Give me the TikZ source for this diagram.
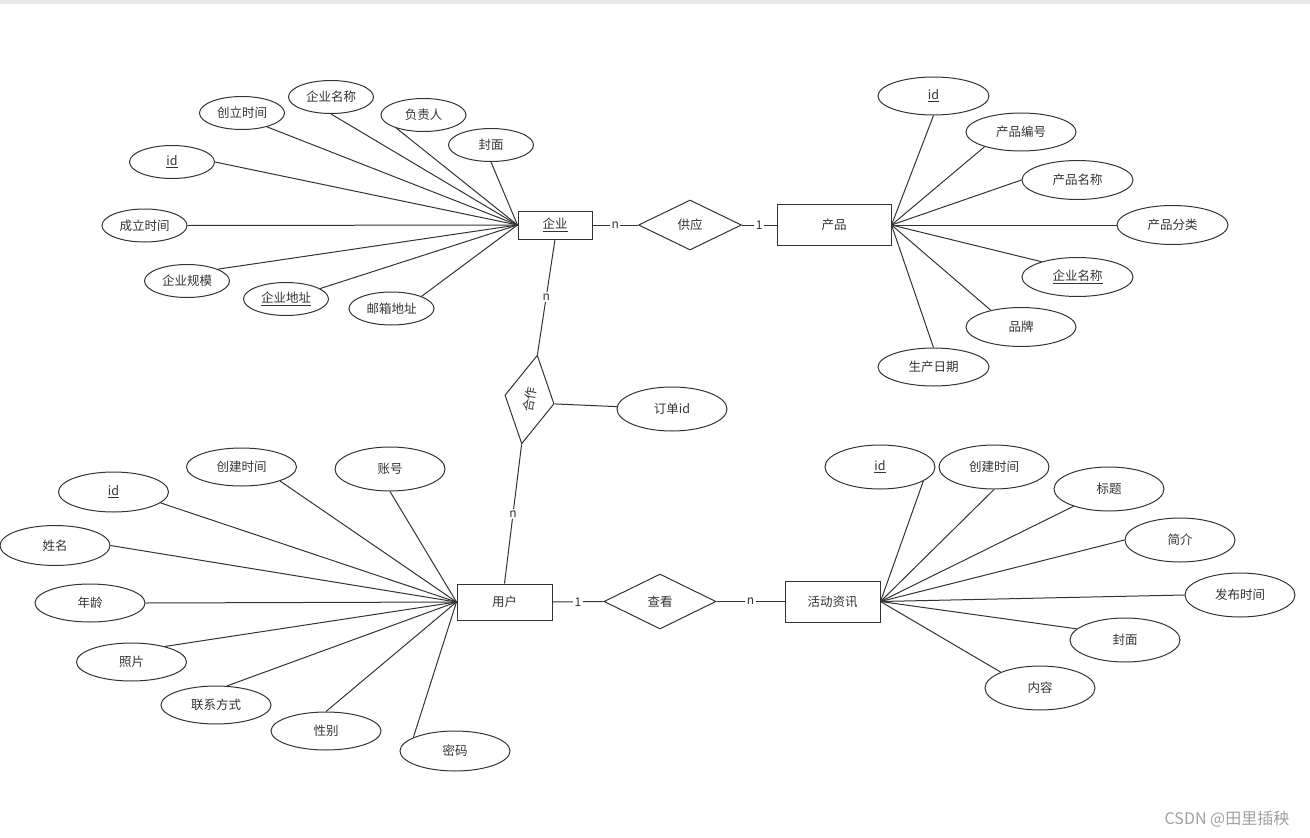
\documentclass[tikz,border=0pt]{standalone}
\usepackage{fontspec}
\setmainfont{Noto Sans CJK SC}
\usetikzlibrary{shapes.geometric}
\definecolor{linegray}{HTML}{333333}
\definecolor{textgray}{HTML}{333333}
\definecolor{bandgray}{HTML}{E8E9EB}
\definecolor{markgray}{HTML}{A0A0A0}
\newcommand{\keyattr}[1]{\underline{#1}}

\begin{document}
\begin{tikzpicture}[x=1pt,y=-1pt]
		% Define styles
		\tikzstyle{entity} = [rectangle, draw=linegray, line width=1pt, inner sep=0pt,
		text=textgray, font=\fontsize{12.5}{15}\selectfont]
		\tikzstyle{attr} = [ellipse, draw=linegray, line width=1pt, inner sep=0pt,
		text=textgray, font=\fontsize{12.5}{15}\selectfont]
		\tikzstyle{smallattr} = [attr, minimum width=85pt, minimum height=33pt]
		\tikzstyle{bigattr} = [attr, minimum width=110pt, minimum height=40pt]
		\tikzstyle{relation} = [diamond, draw=linegray, line width=1pt, inner sep=0pt,
		text=textgray, font=\fontsize{12.5}{15}\selectfont]
		\tikzstyle{card} = [fill=white, inner sep=1.5pt, text=textgray, font=\fontsize{12}{14}\selectfont]
		\tikzstyle{line} = [draw=linegray, line width=1pt]
		
		% Canvas
		\useasboundingbox (0,0) rectangle (1310,838);
		\fill [bandgray] (0,0) rectangle (1310,3.5);
		
		% Entities
		\node [entity, minimum width=74pt, minimum height=28pt] (qiye) at (555,225) {\keyattr{企业}};
		\node [entity, minimum width=114pt, minimum height=41pt] (chanpin) at (834,225) {产品};
		\node [entity, minimum width=95pt, minimum height=36pt] (yonghu) at (504.5,602) {用户};
		\node [entity, minimum width=95pt, minimum height=41pt] (huodong) at (832.5,601.5) {活动资讯};
		
		% Relations
		\node [relation, minimum width=103pt, minimum height=50pt] (gongying) at (690,225) {供应};
		\node [relation, minimum width=112pt, minimum height=55pt] (chakan) at (660,601.5) {查看};
		\node [relation, minimum width=90pt, minimum height=50pt, rotate=80] (hezuo) at (529.5,399.5) {合作};
		\node [bigattr, minimum height=44pt] (dingdanid) at (672,409) {订单id};
		
		% Attributes of 企业
		\node [smallattr] (qy_id) at (172,162) {\keyattr{id}};
		\node [smallattr] (qy_clsj) at (242,113) {创立时间};
		\node [smallattr] (qy_mc) at (331,97) {企业名称};
		\node [smallattr] (qy_fzr) at (423.5,115) {负责人};
		\node [smallattr] (qy_fm) at (491,145) {封面};
		\node [smallattr] (qy_cl) at (144.5,225.5) {成立时间};
		\node [smallattr] (qy_gm) at (187,281) {企业规模};
		\node [smallattr] (qy_dz) at (286,299) {\keyattr{企业地址}};
		\node [smallattr] (qy_yx) at (391.5,308.5) {邮箱地址};
		
		% Attributes of 产品
		\node [bigattr, minimum width=111pt, minimum height=38pt] (cp_id) at (933.5,96) {\keyattr{id}};
		\node [bigattr, minimum height=38pt] (cp_bh) at (1021,132) {产品编号};
		\node [bigattr, minimum width=111pt, minimum height=39pt] (cp_mc) at (1077.5,180) {产品名称};
		\node [bigattr, minimum width=111pt, minimum height=39pt] (cp_fl) at (1172.5,225) {产品分类};
		\node [bigattr, minimum width=111pt, minimum height=39pt] (cp_qy) at (1077.5,277) {\keyattr{企业名称}};
		\node [bigattr, minimum height=39pt] (cp_pp) at (1021,327) {品牌};
		\node [bigattr, minimum width=111pt, minimum height=38pt] (cp_rq) at (933.5,367) {生产日期};
		
		% Attributes of 用户
		\node [bigattr] (yh_id) at (113.5,492) {\keyattr{id}};
		\node [bigattr, minimum height=38pt] (yh_cj) at (241.5,467) {创建时间};
		\node [bigattr, minimum height=44pt] (yh_zh) at (390,469) {账号};
		\node [bigattr] (yh_xm) at (55,545.5) {姓名};
		\node [bigattr, minimum height=38pt] (yh_nl) at (90,603) {年龄};
		\node [bigattr, minimum height=38pt] (yh_zp) at (131.5,662) {照片};
		\node [bigattr, minimum height=38pt] (yh_lx) at (216,705) {联系方式};
		\node [bigattr, minimum height=38pt] (yh_xb) at (326,731) {性别};
		\node [bigattr] (yh_mm) at (455,751) {密码};
		
		% Attributes of 活动资讯
		\node [bigattr, minimum height=44pt] (hd_id) at (880,467) {\keyattr{id}};
		\node [bigattr, minimum height=44pt] (hd_cj) at (994,467) {创建时间};
		\node [bigattr, minimum height=44pt] (hd_bt) at (1109,489) {标题};
		\node [bigattr, minimum height=44pt] (hd_jj) at (1180,540) {简介};
		\node [bigattr, minimum height=44pt] (hd_fb) at (1240,595) {发布时间};
		\node [bigattr, minimum height=44pt] (hd_fm) at (1125,640) {封面};
		\node [bigattr, minimum height=44pt] (hd_nr) at (1040,688) {内容};
		
		% Relation lines with cardinalities
		\draw [line] (qiye.east) -- node [card] {n} (gongying.west);
		\draw [line] (gongying.east) -- node [card] {1} (chanpin.west);
		\draw [line] (qiye.south) -- node [card] {n} (hezuo.east);
		\draw [line] (hezuo.west) -- node [card] {n} (yonghu.north);
		\draw [line] (hezuo.south) -- (dingdanid);
		\draw [line] (yonghu.east) -- node [card] {1} (chakan.west);
		\draw [line] (chakan.east) -- node [card] {n} (huodong.west);
		
		% Attribute lines of 企业
		\draw [line] (qy_id.east) -- (qiye.west);
		\draw [line] (qy_clsj.-29) -- (qiye.west);
		\draw [line] (qy_mc.south) -- (qiye.west);
		\draw [line] (qy_fzr.-154) -- (qiye.west);
		\draw [line] (qy_fm.south) -- (qiye.west);
		\draw [line] (qy_cl.east) -- (qiye.west);
		\draw [line] (qy_gm.21) -- (qiye.west);
		\draw [line] (qy_dz.17) -- (qiye.west);
		\draw [line] (qy_yx.22) -- (qiye.west);
		
		% Attribute lines of 产品
		\draw [line] (cp_id.south) -- (chanpin.east);
		\draw [line] (cp_bh.-158) -- (chanpin.east);
		\draw [line] (cp_mc.west) -- (chanpin.east);
		\draw [line] (cp_fl.west) -- (chanpin.east);
		\draw [line] (cp_qy.157) -- (chanpin.east);
		\draw [line] (cp_pp.151) -- (chanpin.east);
		\draw [line] (cp_rq.north) -- (chanpin.east);
		
		% Attribute lines of 用户
		\draw [line] (yh_id.-13) -- (yonghu.west);
		\draw [line] (yh_cj.-20) -- (yonghu.west);
		\draw [line] (yh_zh.south) -- (yonghu.west);
		\draw [line] (yh_xm.east) -- (yonghu.west);
		\draw [line] (yh_nl.east) -- (yonghu.west);
		\draw [line] (yh_zp.25) -- (yonghu.west);
		\draw [line] (yh_lx.60) -- (yonghu.west);
		\draw [line] (yh_xb.north) -- (yonghu.west);
		\draw [line] (yh_mm.162) -- (yonghu.west);
		
		% Attribute lines of 活动资讯
		\draw [line] (hd_id.-18) -- (huodong.east);
		\draw [line] (hd_cj.south) -- (huodong.east);
		\draw [line] (hd_bt.-154) -- (huodong.east);
		\draw [line] (hd_jj.west) -- (huodong.east);
		\draw [line] (hd_fb.west) -- (huodong.east);
		\draw [line] (hd_fm.167) -- (huodong.east);
		\draw [line] (hd_nr.158) -- (huodong.east);
		
		% Watermark
		\node [text=markgray, font=\fontsize{16}{19}\selectfont] (mark) at (1227,819) {CSDN @田里插秧};
	\end{tikzpicture}
\end{document}
